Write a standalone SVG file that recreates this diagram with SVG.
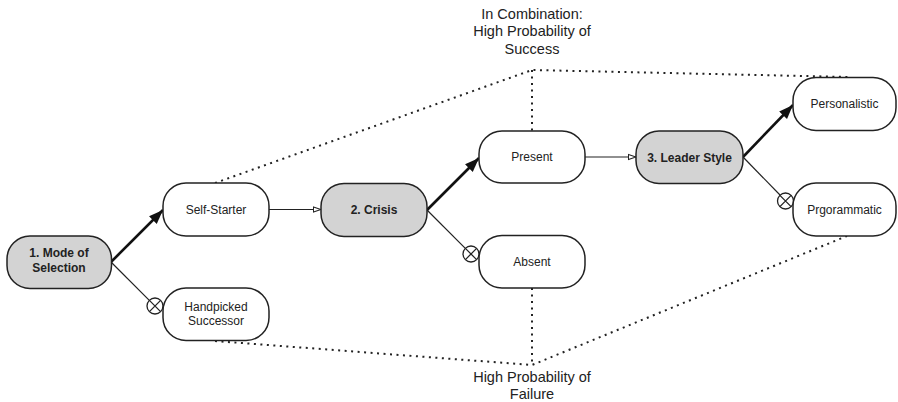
<svg xmlns="http://www.w3.org/2000/svg" width="898" height="402" viewBox="0 0 898 402">
<style>
.node rect{fill:#fff;stroke:#222;stroke-width:1.5}
.node.key rect{fill:#d3d3d3}
.node text{font-family:"Liberation Sans",Arial,sans-serif;font-size:12px;fill:#222;text-anchor:middle}
.node.key text{font-weight:bold}
.label{font-family:"Liberation Sans",Arial,sans-serif;font-size:14.5px;fill:#222;text-anchor:middle}
.bold{stroke:#111;stroke-width:2.6;fill:none}
.thin{stroke:#222;stroke-width:1.2;fill:none}
.dot{stroke:#222;stroke-width:2;fill:none;stroke-dasharray:2 4.5}
.nx{fill:#fff;stroke:#222;stroke-width:1.3}
</style>
<defs>
<marker id="solid" viewBox="0 0 10 10" refX="10" refY="5" markerWidth="5.5" markerHeight="5.5" orient="auto" markerUnits="strokeWidth">
<path d="M0,1.2 L10,5 L0,8.8 z" fill="#111"/>
</marker>
<marker id="open" viewBox="0 0 10 10" refX="10" refY="5" markerWidth="7" markerHeight="7" orient="auto" markerUnits="strokeWidth">
<path d="M1,2 L10,5 L1,8 z" fill="#fff" stroke="#222" stroke-width="1.3"/>
</marker>
<g id="notx">
<circle class="nx" cx="0" cy="0" r="8"/>
<path d="M-5.6,-5.6 L5.6,5.6 M5.6,-5.6 L-5.6,5.6" stroke="#222" stroke-width="1.3"/>
</g>
</defs>

<g id="connectors">
<polyline class="dot" points="215,183 532,70 848,77"/>
<line class="dot" x1="532" y1="70" x2="532" y2="131"/>
<polyline class="dot" points="215,341 532,365 847,236"/>
<line class="dot" x1="532" y1="288" x2="532" y2="365"/>

<line class="bold" x1="111" y1="262" x2="163" y2="210" marker-end="url(#solid)"/>
<line class="thin" x1="111" y1="262" x2="149.3" y2="300.3"/>
<use href="#notx" x="155" y="306"/>
<line class="thin" x1="269" y1="209.5" x2="321" y2="209.5" marker-end="url(#open)"/>

<line class="bold" x1="427" y1="210" x2="479" y2="158" marker-end="url(#solid)"/>
<line class="thin" x1="427" y1="210" x2="465.3" y2="248.3"/>
<use href="#notx" x="471" y="254"/>
<line class="thin" x1="585" y1="157" x2="636" y2="157" marker-end="url(#open)"/>

<line class="bold" x1="743" y1="157" x2="793" y2="105" marker-end="url(#solid)"/>
<line class="thin" x1="743" y1="157" x2="780" y2="195"/>
<use href="#notx" x="785.5" y="201"/>
</g>

<g id="mode" class="node key">
<rect x="7" y="236" width="104.5" height="52.5" rx="23"/>
<text x="59" y="257">1. Mode of</text>
<text x="59" y="272">Selection</text>
</g>
<g id="selfstarter" class="node">
<rect x="163" y="183" width="106" height="53" rx="23"/>
<text x="216" y="213.5">Self-Starter</text>
</g>
<g id="handpicked" class="node">
<rect x="163" y="288" width="106" height="52.5" rx="23"/>
<text x="216" y="310.5">Handpicked</text>
<text x="216" y="325">Successor</text>
</g>
<g id="crisis" class="node key">
<rect x="321" y="183.5" width="106" height="53" rx="23"/>
<text x="374" y="214">2. Crisis</text>
</g>
<g id="present" class="node">
<rect x="479" y="131" width="106" height="52" rx="23"/>
<text x="532" y="161">Present</text>
</g>
<g id="absent" class="node">
<rect x="479" y="235.5" width="106" height="52.5" rx="23"/>
<text x="532" y="265.5">Absent</text>
</g>
<g id="leader" class="node key">
<rect x="636" y="131" width="107" height="52.5" rx="23"/>
<text x="689.5" y="161.5">3. Leader Style</text>
</g>
<g id="personalistic" class="node">
<rect x="793" y="77.5" width="103" height="53" rx="23"/>
<text x="844.5" y="108">Personalistic</text>
</g>
<g id="programmatic" class="node">
<rect x="793" y="183" width="103" height="53" rx="23"/>
<text x="844.5" y="213.5">Prgorammatic</text>
</g>

<g id="success-label">
<text class="label" x="532" y="18.5">In Combination:</text>
<text class="label" x="532" y="36">High Probability of</text>
<text class="label" x="532" y="53.5">Success</text>
</g>
<g id="failure-label">
<text class="label" x="532" y="382">High Probability of</text>
<text class="label" x="532" y="399">Failure</text>
</g>
</svg>
